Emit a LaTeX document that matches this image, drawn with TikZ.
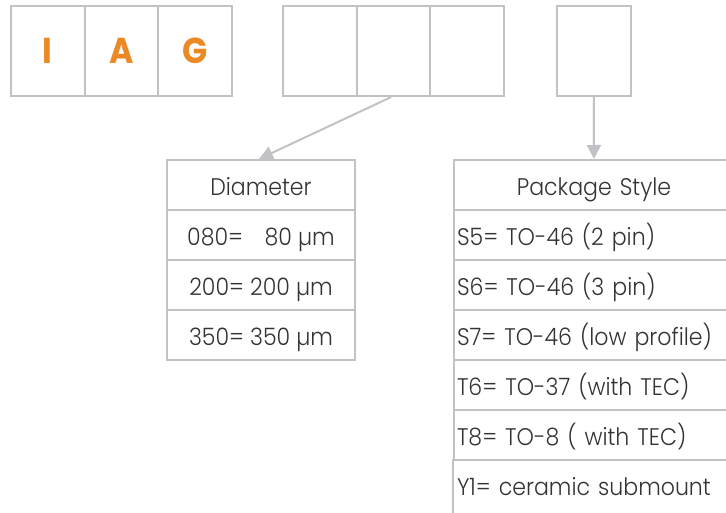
\documentclass[tikz,border=0pt]{standalone}
\usepackage{fontspec}
\setmainfont{Poppins}[UprightFont=* Light, BoldFont=* Bold, FakeStretch=0.92]
\usetikzlibrary{arrows.meta}
\definecolor{lgrey}{HTML}{C2C2C6}
\definecolor{iagorange}{HTML}{EB8A25}
\definecolor{txt}{HTML}{333333}
\tikzset{
  x=1pt, y=-1pt,
  line/.style={draw=lgrey, line width=2pt},
  topbox/.style={line, rectangle, minimum width=73.5pt, minimum height=90pt, inner sep=0pt, anchor=north west},
  letter/.style={text=iagorange, font=\fontsize{36}{38}\selectfont\bfseries},
  cell/.style={line, rectangle, inner sep=0pt, anchor=north west, text=txt, font=\fontsize{24}{26}\selectfont, text height=22pt, text depth=2pt},
  dcell/.style={cell, minimum width=188pt, minimum height=50pt},
  pcell/.style={cell, minimum width=280pt, minimum height=50pt, text width=274pt, align=left},
  conn/.style={draw=lgrey, line width=2pt, -{Triangle[length=14pt,width=14pt]}},
}
\begin{document}
\begin{tikzpicture}
\useasboundingbox (0,0) rectangle (726,512);
% top groups
\node[topbox, letter] (b1) at (10,5) {I};
\node[topbox, letter] (b2) at (83.5,5) {A};
\node[topbox, letter] (b3) at (157,5) {G};
\node[topbox] (c1) at (282,5) {};
\node[topbox] (c2) at (355.5,5) {};
\node[topbox] (c3) at (429,5) {};
\node[topbox] (d1) at (556,5) {};
% diameter table
\node[dcell] (dh) at (166,159) {Diameter};
\node[dcell] (dr1) at (166,209) {080=\hspace{0.9em}80 µm};
\node[dcell] (dr2) at (166,259) {200= 200 µm};
\node[dcell] (dr3) at (166,309) {350= 350 µm};
% package table
\node[pcell, align=center] (ph) at (453,159) {Package Style};
\node[pcell] (p1) at (453,209) {S5= TO-46 (2 pin)};
\node[pcell] (p2) at (453,259) {S6= TO-46 (3 pin)};
\node[pcell] (p3) at (453,309) {S7= TO-46 (low profile)};
\node[pcell] (p4) at (453,359) {T6= TO-37 (with TEC)};
\node[pcell] (p5) at (453,409) {T8= TO-8 ( with TEC)};
\node[pcell, draw=none] (p6) at (453,459) {Y1= ceramic submount};
\draw[line] (p6.north west) -- ++(0,70);
% connectors
\coordinate (s1) at ([xshift=-2pt]c2.south);
\coordinate (e1) at ([xshift=-2pt]dh.north);
\draw[conn] (s1) -- (e1);
\draw[conn] (d1.south) -- (ph.north);
\end{tikzpicture}
\end{document}
